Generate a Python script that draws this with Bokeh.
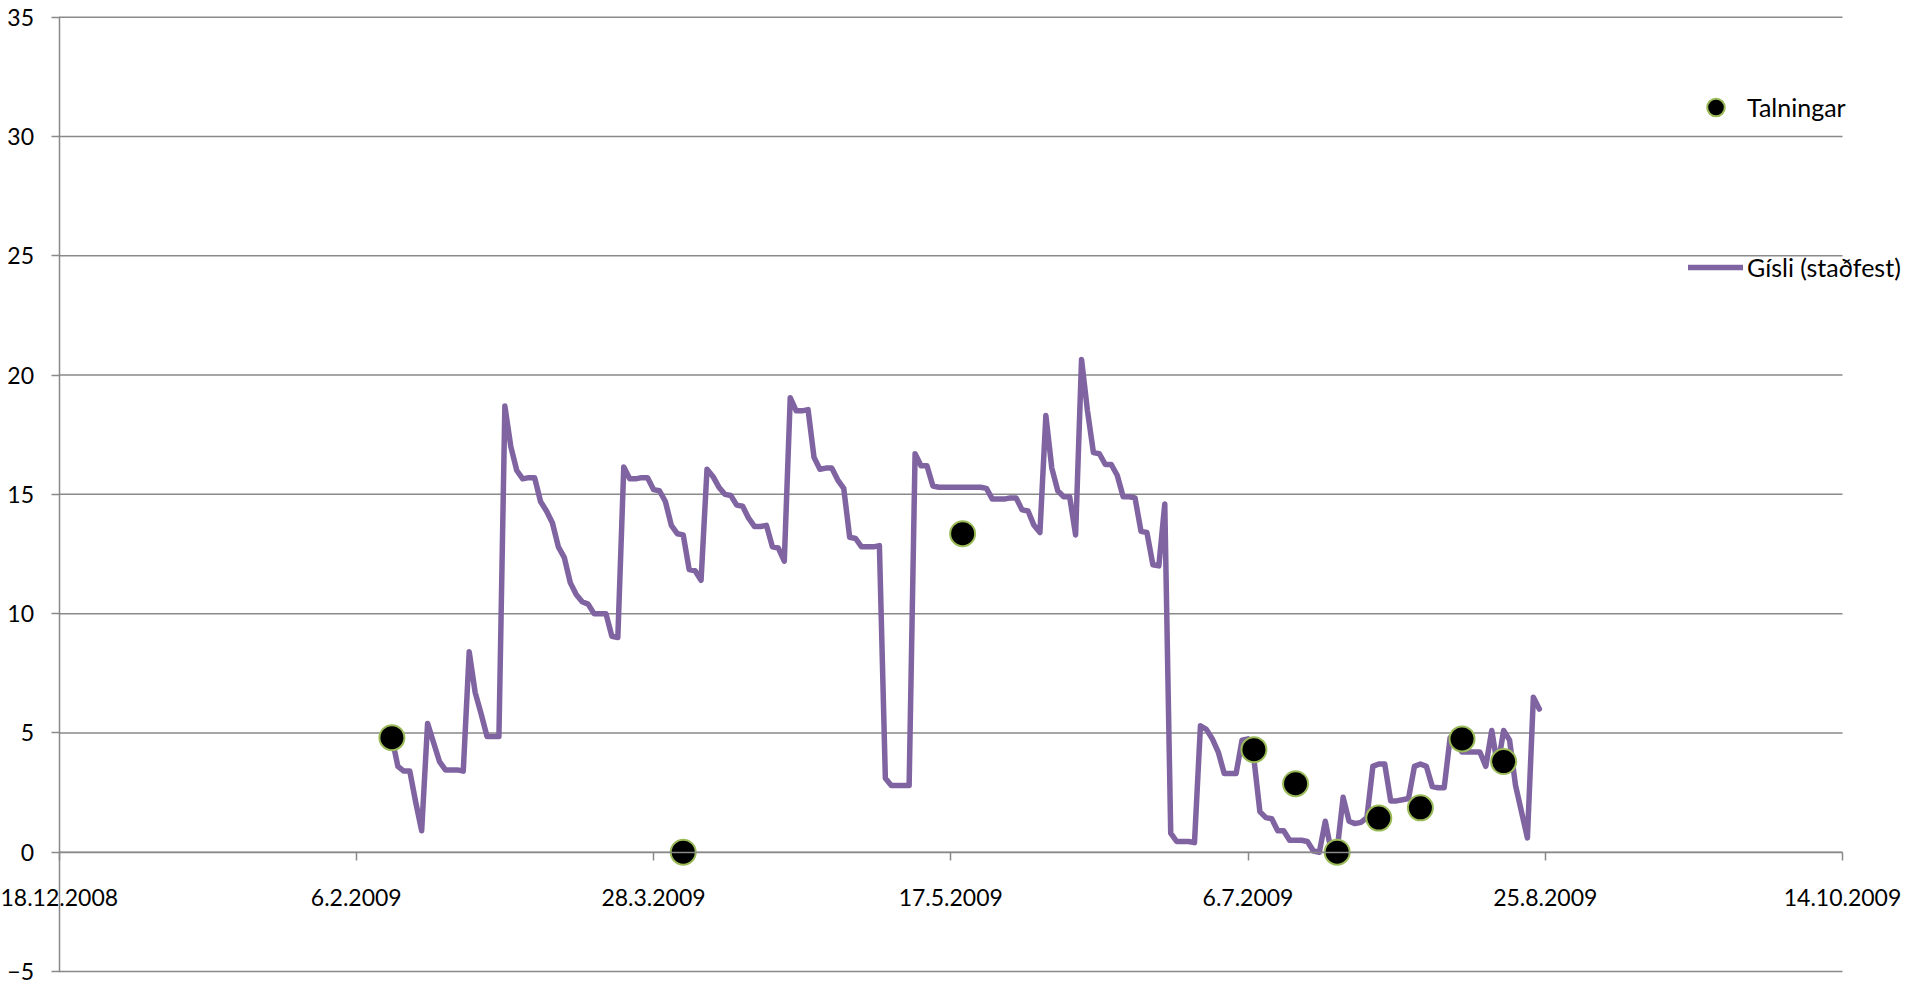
from datetime import datetime

from bokeh.plotting import figure
from bokeh.models import Range1d, FixedTicker, Legend, LegendItem, ColumnDataSource
from bokeh.embed import file_html
from bokeh.resources import INLINE

# ---------------- data ----------------
x_tick_labels = ["18.12.2008", "6.2.2009", "28.3.2009", "17.5.2009",
                 "6.7.2009", "25.8.2009", "14.10.2009"]
y_ticks = [-5, 0, 5, 10, 15, 20, 25, 30, 35]

talningar_dates = ["12.2.2009", "2.4.2009", "19.5.2009", "7.7.2009", "14.7.2009",
                   "21.7.2009", "28.7.2009", "4.8.2009", "11.8.2009", "18.8.2009"]
talningar_values = [4.8, 0.0, 13.35, 4.3, 2.87, 0.0, 1.43, 1.86, 4.75, 3.8]

gisli_first_date = "12.2.2009"   # daily values from this date
gisli_values = [
    4.8, 3.6, 3.4, 3.4, 2.1, 0.9, 5.4, 4.6, 3.8, 3.45,            # 12.2 - 21.2
    3.45, 3.45, 3.4, 8.4, 6.7, 5.8, 4.85, 4.85, 4.85, 18.7,       # 22.2 - 3.3
    17.0, 16.0, 15.65, 15.7, 15.7, 14.7, 14.3, 13.8, 12.8, 12.35,  # 4.3 - 13.3
    11.3, 10.8, 10.5, 10.4, 10.0, 10.0, 10.0, 9.05, 9.0, 16.15,   # 14.3 - 23.3
    15.65, 15.65, 15.7, 15.7, 15.2, 15.15, 14.7, 13.7, 13.35, 13.3,  # 24.3 - 2.4
    11.85, 11.8, 11.4, 16.05, 15.75, 15.3, 15.0, 14.95, 14.55, 14.5,  # 3.4 - 12.4
    14.0, 13.65, 13.65, 13.7, 12.8, 12.75, 12.2, 19.05, 18.5, 18.5,   # 13.4 - 22.4
    18.55, 16.55, 16.05, 16.1, 16.1, 15.6, 15.25, 13.2, 13.15, 12.8,  # 23.4 - 2.5
    12.8, 12.8, 12.85, 3.1, 2.8, 2.8, 2.8, 2.8, 16.7, 16.2,          # 3.5 - 12.5
    16.2, 15.35, 15.3, 15.3, 15.3, 15.3, 15.3, 15.3, 15.3, 15.3,     # 13.5 - 22.5
    15.25, 14.8, 14.8, 14.8, 14.85, 14.85, 14.35, 14.3, 13.7, 13.4,  # 23.5 - 1.6
    18.3, 16.1, 15.15, 14.9, 14.9, 13.3, 20.65, 18.5, 16.75, 16.7,   # 2.6 - 11.6
    16.25, 16.25, 15.8, 14.9, 14.9, 14.85, 13.45, 13.4, 12.05, 12.0, # 12.6 - 21.6
    14.6, 0.8, 0.45, 0.45, 0.45, 0.4, 5.3, 5.15, 4.75, 4.2,          # 22.6 - 1.7
    3.3, 3.3, 3.3, 4.7, 4.75, 3.9, 1.7, 1.45, 1.4, 0.9,              # 2.7 - 11.7
    0.9, 0.5, 0.5, 0.5, 0.45, 0.05, 0.0, 1.3, 0.05, 0.1,             # 12.7 - 21.7
    2.3, 1.3, 1.2, 1.25, 1.45, 3.6, 3.7, 3.7, 2.15, 2.15,            # 22.7 - 31.7
    2.2, 2.25, 3.6, 3.7, 3.6, 2.75, 2.7, 2.7, 4.8, 4.6,              # 1.8 - 10.8
    4.2, 4.2, 4.2, 4.2, 3.6, 5.1, 3.6, 5.1, 4.7, 2.8,                # 11.8 - 20.8
    1.7, 0.6, 6.5, 6.0,                                              # 21.8 - 24.8
]

# ---------------- helpers ----------------
def parse(s):
    return datetime.strptime(s, "%d.%m.%Y")

origin = parse(x_tick_labels[0])

def day_of(s):
    return (parse(s) - origin).days

tick_days = [day_of(s) for s in x_tick_labels]
t_days = [day_of(s) for s in talningar_dates]
g_start = day_of(gisli_first_date)
g_days = [g_start + i for i in range(len(gisli_values))]

GRID = "#898989"
FONT = "Lato"

W, H = 1909, 985
# plot area (pixels) of the reference: x 58.5 .. 1842, y 16.7 .. 971
px_day = (1842 - 58.5) / (tick_days[-1] - tick_days[0])
px_unit = (971 - 16.7) / (y_ticks[-1] - y_ticks[0])
x_start = tick_days[0] - 58.5 / px_day
x_end = tick_days[-1] + (W - 1842) / px_day
y_end = y_ticks[-1] + 16.7 / px_unit
y_start = y_ticks[0] - (H - 971) / px_unit

p = figure(width=W, height=H, output_backend="svg", toolbar_location=None,
           x_range=Range1d(x_start, x_end), y_range=Range1d(y_start, y_end),
           min_border=0)
p.outline_line_color = None
p.background_fill_color = "white"
p.border_fill_color = "white"
p.xgrid.visible = False
p.ygrid.visible = False

# horizontal gridlines over the chart's date span
p.segment(x0=[tick_days[0]] * len(y_ticks), x1=[tick_days[-1]] * len(y_ticks),
          y0=y_ticks, y1=y_ticks, line_color=GRID, line_width=1.5)

# x axis crossing at 0
xa = p.xaxis[0]
xa.fixed_location = 0
xa.bounds = (tick_days[0], tick_days[-1])
xa.ticker = FixedTicker(ticks=tick_days)
xa.major_label_overrides = {d: lbl for d, lbl in zip(tick_days, x_tick_labels)}
xa.minor_tick_line_color = None
xa.major_tick_in = 0
xa.major_tick_out = 8
xa.axis_line_color = GRID
xa.axis_line_width = 1.5
xa.major_tick_line_color = GRID
xa.major_tick_line_width = 1.5
xa.major_label_standoff = 29
xa.major_label_text_font = FONT
xa.major_label_text_font_size = "23px"
xa.major_label_text_color = "#000000"

ya = p.yaxis[0]
ya.fixed_location = tick_days[0]
ya.bounds = (y_ticks[0], y_ticks[-1])
ya.ticker = FixedTicker(ticks=y_ticks)
ya.minor_tick_line_color = None
ya.major_tick_in = 0
ya.major_tick_out = 8
ya.axis_line_color = GRID
ya.axis_line_width = 1.5
ya.major_tick_line_color = GRID
ya.major_tick_line_width = 1.5
ya.major_label_standoff = 17
ya.major_label_text_font = FONT
ya.major_label_text_font_size = "23px"
ya.major_label_text_color = "#000000"

line_src = ColumnDataSource(dict(day=g_days, val=gisli_values))
pt_src = ColumnDataSource(dict(day=t_days, val=talningar_values))

ln = p.line(x="day", y="val", source=line_src, line_color="#8064A2",
            line_width=5.5, line_join="round", line_cap="round")
sc = p.scatter(x="day", y="val", source=pt_src, size=25, fill_color="#000000",
               line_color="#9BBB59", line_width=2)

legend = Legend(
    items=[LegendItem(label="Talningar", renderers=[sc]),
           LegendItem(label="Gísli (staðfest)", renderers=[ln])],
    location=(1688, 696), glyph_width=55, glyph_height=44, spacing=116,
    padding=0, margin=0, label_standoff=4, border_line_color=None,
    background_fill_alpha=0, label_text_font=FONT, label_text_font_size="25px",
    label_text_color="#000000",
)
p.add_layout(legend)

open("out.html", "w").write(file_html(p, INLINE))
